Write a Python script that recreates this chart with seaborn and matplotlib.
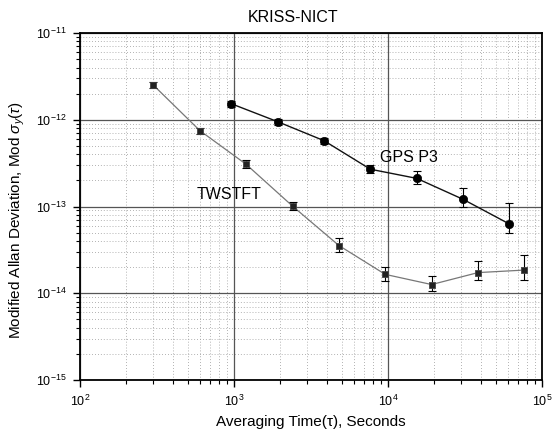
import numpy as np
import pandas as pd
import matplotlib
matplotlib.use("Agg")
import matplotlib.pyplot as plt
import seaborn as sns
from matplotlib.ticker import FixedLocator, NullFormatter

# ---- data ----
tw_tau = [300, 600, 1200, 2400, 4800, 9600, 19200, 38400, 76800]
tw_dev = [2.5e-12, 7.5e-13, 3.06e-13, 1.01e-13, 3.55e-14, 1.65e-14, 1.26e-14, 1.73e-14, 1.85e-14]
tw_hi = [2.7e-12, 8.1e-13, 3.4e-13, 1.13e-13, 4.3e-14, 2.0e-14, 1.58e-14, 2.33e-14, 2.75e-14]
tw_lo = [2.3e-12, 6.9e-13, 2.75e-13, 0.91e-13, 3.0e-14, 1.4e-14, 1.05e-14, 1.44e-14, 1.44e-14]

gps_tau = [960, 1920, 3840, 7680, 15360, 30720, 61440]
gps_dev = [1.53e-12, 9.5e-13, 5.74e-13, 2.69e-13, 2.11e-13, 1.21e-13, 6.28e-14]
gps_hi = [1.65e-12, 1.03e-12, 6.2e-13, 3.0e-13, 2.6e-13, 1.62e-13, 1.09e-13]
gps_lo = [1.42e-12, 0.88e-12, 5.3e-13, 2.42e-13, 1.81e-13, 0.995e-13, 4.99e-14]

x_exps = [2, 3, 4, 5]
y_exps = [-15, -14, -13, -12, -11]

series_names = ["TWSTFT", "GPS P3"]
title = "KRISS-NICT"
xlabel = "Averaging Time(\u03c4), Seconds"
ylabel = r"Modified Allan Deviation, Mod $\sigma_y(\tau)$"

tw = pd.DataFrame({"tau": tw_tau, "dev": tw_dev, "hi": tw_hi, "lo": tw_lo})
gps = pd.DataFrame({"tau": gps_tau, "dev": gps_dev, "hi": gps_hi, "lo": gps_lo})

sns.set_style("ticks")
plt.rcParams["font.family"] = ["Liberation Sans", "DejaVu Sans"]
plt.rcParams["mathtext.fontset"] = "custom"
plt.rcParams["mathtext.rm"] = "Liberation Sans"
plt.rcParams["mathtext.it"] = "Liberation Sans:italic"
plt.rcParams["text.color"] = "black"
plt.rcParams["axes.labelcolor"] = "black"
plt.rcParams["xtick.color"] = "black"
plt.rcParams["ytick.color"] = "black"

fig = plt.figure(figsize=(5.54, 4.34), dpi=100)
ax = fig.add_axes([80 / 554, 1 - 380 / 434, 462 / 554, 347 / 434])

ax.set_xscale("log")
ax.set_yscale("log")
ax.set_xlim(10.0 ** x_exps[0], 10.0 ** x_exps[-1])
ax.set_ylim(10.0 ** y_exps[0], 10.0 ** y_exps[-1])

sns.lineplot(data=tw, x="tau", y="dev", color="#777777", lw=0.9, ax=ax, zorder=2)
sns.lineplot(data=gps, x="tau", y="dev", color="#111111", lw=1.0, ax=ax, zorder=2)

for d in (tw, gps):
    ax.errorbar(d["tau"], d["dev"],
                yerr=[d["dev"] - d["lo"], d["hi"] - d["dev"]],
                fmt="none", ecolor="black", elinewidth=0.8, capsize=3, capthick=0.8, zorder=3)

sns.scatterplot(data=tw, x="tau", y="dev", marker="s", s=18, color="#222222",
                edgecolor="#444444", linewidth=0.6, ax=ax, zorder=4)
sns.scatterplot(data=gps, x="tau", y="dev", marker="o", s=36, color="black",
                edgecolor="black", linewidth=0.5, ax=ax, zorder=4)

ax.text(931, 1.36e-13, series_names[0], ha="center", va="center", fontsize=11.5)
ax.text(13600, 3.7e-13, series_names[1], ha="center", va="center", fontsize=11.5)

# explicit ticks, only within the visible range
ax.set_xticks([10.0 ** e for e in x_exps])
ax.set_xticklabels([r"$10^{%d}$" % e for e in x_exps])
ax.set_yticks([10.0 ** e for e in y_exps])
ax.set_yticklabels([r"$10^{%d}$" % e for e in y_exps])
xminor = [m * 10.0 ** e for e in x_exps[:-1] for m in range(2, 10)]
yminor = [m * 10.0 ** e for e in y_exps[:-1] for m in range(2, 10)]
ax.xaxis.set_minor_locator(FixedLocator(xminor))
ax.yaxis.set_minor_locator(FixedLocator(yminor))
ax.xaxis.set_minor_formatter(NullFormatter())
ax.yaxis.set_minor_formatter(NullFormatter())

ax.grid(which="major", ls="-", color="#555555", lw=0.9, zorder=0)
ax.grid(which="minor", ls=(0, (1, 2.5)), color="#999999", lw=0.6, zorder=0)
ax.set_axisbelow(True)

ax.tick_params(which="major", direction="out", length=5, width=1, labelsize=9, pad=5,
               top=False, right=False)
ax.tick_params(which="minor", direction="out", length=3, width=0.8, top=False, right=False)

for sp in ax.spines.values():
    sp.set_visible(True)
    sp.set_linewidth(1.3)
    sp.set_color("black")

ax.set_xlabel(xlabel, fontsize=11)
ax.set_ylabel(ylabel, fontsize=11)
ax.xaxis.set_label_coords(0.5, -0.10)
ax.yaxis.set_label_coords(-0.115, 0.46)

fig.text(293 / 554, 1 - 18 / 434, title, ha="center", va="center", fontsize=11.5)

fig.savefig("out.png", dpi=100)
